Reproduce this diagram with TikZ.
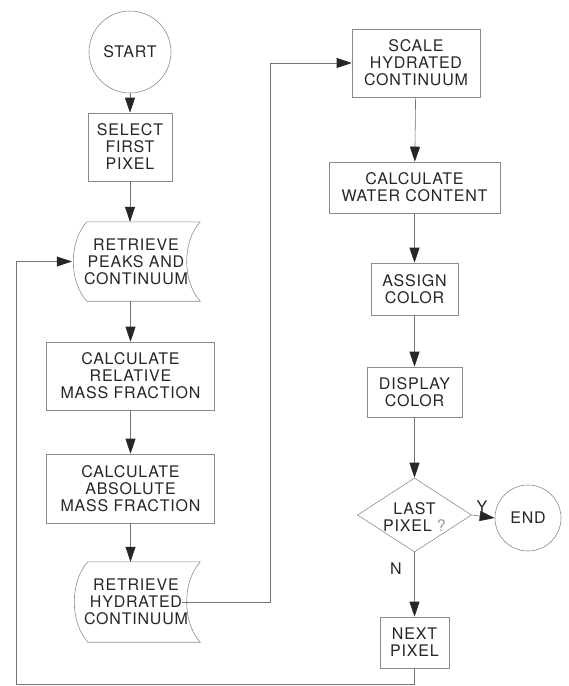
\documentclass[tikz,border=0pt]{standalone}
\usepackage{fontspec}
\setmainfont{TeX Gyre Heros}[LetterSpace=5]
\usetikzlibrary{arrows.meta,shapes.geometric}
\tikzset{
  ln/.style={draw=black!55, line width=0.6pt},
  arr/.style={ln, -{Triangle[length=15pt,width=10pt,color=black!85,fill=black!85]}},
  box/.style={draw=black!45, line width=0.6pt, inner sep=0pt, align=center, text=black!85},
  circ/.style={circle, draw=black!45, line width=0.6pt, inner sep=0pt, text=black!85},
  sdnode/.style={inner sep=0pt, draw=none},
  txt/.style={inner sep=0pt, align=center, text=black!85},
  shp/.style={draw=black!45, line width=0.6pt},
}
\begin{document}
\begin{tikzpicture}[x=1pt,y=-1pt,font=\fontsize{16}{17}\selectfont]
\useasboundingbox (0,0) rectangle (569,686);
% left column
\node[circ, minimum size=82pt] (start) at (130,52) {START};
\node[box, minimum width=84pt, minimum height=68pt] (sel) at (130,147) {SELECT\\FIRST\\PIXEL};
\node[sdnode, minimum width=113pt, minimum height=79pt] (rp) at (143.5,261.5) {};
\draw[shp] (rp.north west) -- (rp.north east) .. controls +(-18,20) and +(-18,-20) .. (rp.south east) -- (rp.south west) .. controls +(-18,-20) and +(-18,20) .. (rp.north west);
\node[txt] (rpt) at (136,261.5) {RETRIEVE\\PEAKS AND\\CONTINUUM};
\node[box, minimum width=168pt, minimum height=68pt] (rel) at (130.5,376) {CALCULATE\\RELATIVE\\MASS FRACTION};
\node[box, minimum width=168pt, minimum height=69pt] (abs) at (130.5,488.5) {CALCULATE\\ABSOLUTE\\MASS FRACTION};
\node[sdnode, minimum width=112pt, minimum height=80pt] (rh) at (144,602) {};
\draw[shp] (rh.north west) -- (rh.north east) .. controls +(-18,20) and +(-18,-20) .. (rh.south east) -- (rh.south west) .. controls +(-18,-20) and +(-18,20) .. (rh.north west);
\node[txt] (rht) at (136,602) {RETRIEVE\\HYDRATED\\CONTINUUM};
% right column
\node[box, minimum width=128pt, minimum height=68pt] (scale) at (416,63) {SCALE\\HYDRATED\\CONTINUUM};
\node[box, minimum width=171pt, minimum height=51pt] (water) at (414.5,187.5) {CALCULATE\\WATER CONTENT};
\node[box, minimum width=87pt, minimum height=52pt] (assign) at (414.5,289) {ASSIGN\\COLOR};
\node[box, minimum width=95pt, minimum height=50pt] (disp) at (414.5,392) {DISPLAY\\COLOR};
\node[diamond, draw=black!45, line width=0.6pt, inner sep=0pt, minimum width=114pt, minimum height=74pt, align=center, text=black!85] (dec) at (414.5,515) {};
\node[txt] (dect) at (414.5,517) {LAST\\PIXEL {\color{black!40}?}};
\node[circ, minimum size=66pt] (end) at (528,518) {END};
\node[box, minimum width=69pt, minimum height=51pt] (next) at (414.5,642.5) {NEXT\\PIXEL};
\node[txt] (ylab) at (482,507) {Y};
\node[txt] (nlab) at (396,569) {N};
\coordinate (bl) at (16,684);
% connectors
\draw[arr] (start) -- (sel);
\draw[arr] (sel.south) -- (sel.south |- rp.north);
\draw[arr] (rel.north |- rp.south) -- (rel.north);
\draw[arr] (rel) -- (abs);
\draw[arr] (abs.south) -- (abs.south |- rh.north);
\draw[arr] ([xshift=-18pt]rh.east) -- (270,602) |- (scale.west);
\draw[arr] (scale) -- (water);
\draw[arr] (water) -- (assign);
\draw[arr] (assign) -- (disp);
\draw[arr] (disp) -- (dec);
\draw[arr] (dec.east) -- (end.west);
\draw[arr] (dec.south) -- (next.north);
\draw[arr] (next.south) -- (next.south |- bl) -- (bl) |- ([xshift=-15pt]rp.west);
\end{tikzpicture}
\end{document}
